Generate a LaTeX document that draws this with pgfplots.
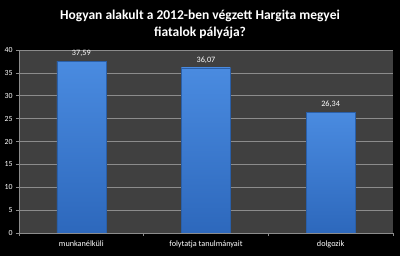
\documentclass[border=0pt]{standalone}
\usepackage{fontspec}
\setmainfont{Carlito}
\usepackage{pgfplots}
\pgfplotsset{compat=1.18}
\definecolor{plotbg}{HTML}{404040}
\definecolor{gridc}{HTML}{8C8C8C}
\definecolor{bartop}{HTML}{4A8BE0}
\definecolor{barbot}{HTML}{2D68BC}
\definecolor{barline}{HTML}{2A5FA8}
\pgfplotsset{mybar/.style={draw=barline, line width=0.5pt, top color=bartop, bottom color=barbot}}
\begin{document}
\begin{tikzpicture}[x=1pt,y=1pt]
\fill[black] (0,0) rectangle (400,256);
\node[white, font=\bfseries\fontsize{13.5}{17}\selectfont, align=center] at (200,231.5) {Hogyan alakult a 2012-ben végzett Hargita megyei\\fiatalok pályája?};
\begin{axis}[
  at={(19pt,23pt)}, anchor=south west,
  scale only axis, width=374pt, height=183pt,
  xmin=-0.5, xmax=2.5, ymin=0, ymax=40,
  ytick={0,5,...,40},
  xtick={0,1,2},
  xticklabels={munkanélküli, folytatja tanulmányait, dolgozik},
  x tick style={draw=none},
  extra x ticks={-0.5,0.5,1.5,2.5},
  extra x tick labels={},
  extra x tick style={x tick style={draw=gridc, line width=0.6pt}, grid=none, major tick length=3pt, tick align=outside},
  y tick style={draw=gridc, line width=0.6pt},
  major tick length=3pt, tick align=outside,
  axis x line*=bottom, axis y line*=left,
  axis line style={draw=gridc, line width=0.6pt, -},
  ymajorgrids, grid style={draw=gridc, line width=0.6pt},
  axis background/.style={fill=plotbg},
  /pgf/number format/assume math mode=true,
  tick label style={white, font=\fontsize{7.8}{8}\selectfont},
  xticklabel style={font=\fontsize{8.2}{9}\selectfont, yshift=-1pt},
  ybar, bar width=49pt, bar shift=0pt,
  nodes near coords={\pgfmathprintnumber[fixed,fixed zerofill,precision=2,use comma,assume math mode=true]{\pgfplotspointmeta}},
  nodes near coords style={white, font=\fontsize{8.2}{9}\selectfont, yshift=1pt},
]
\addplot[mybar] coordinates {(0,37.59)};
\addplot[mybar] coordinates {(1,36.07)};
\addplot[mybar] coordinates {(2,26.34)};
\end{axis}
\end{tikzpicture}
\end{document}
